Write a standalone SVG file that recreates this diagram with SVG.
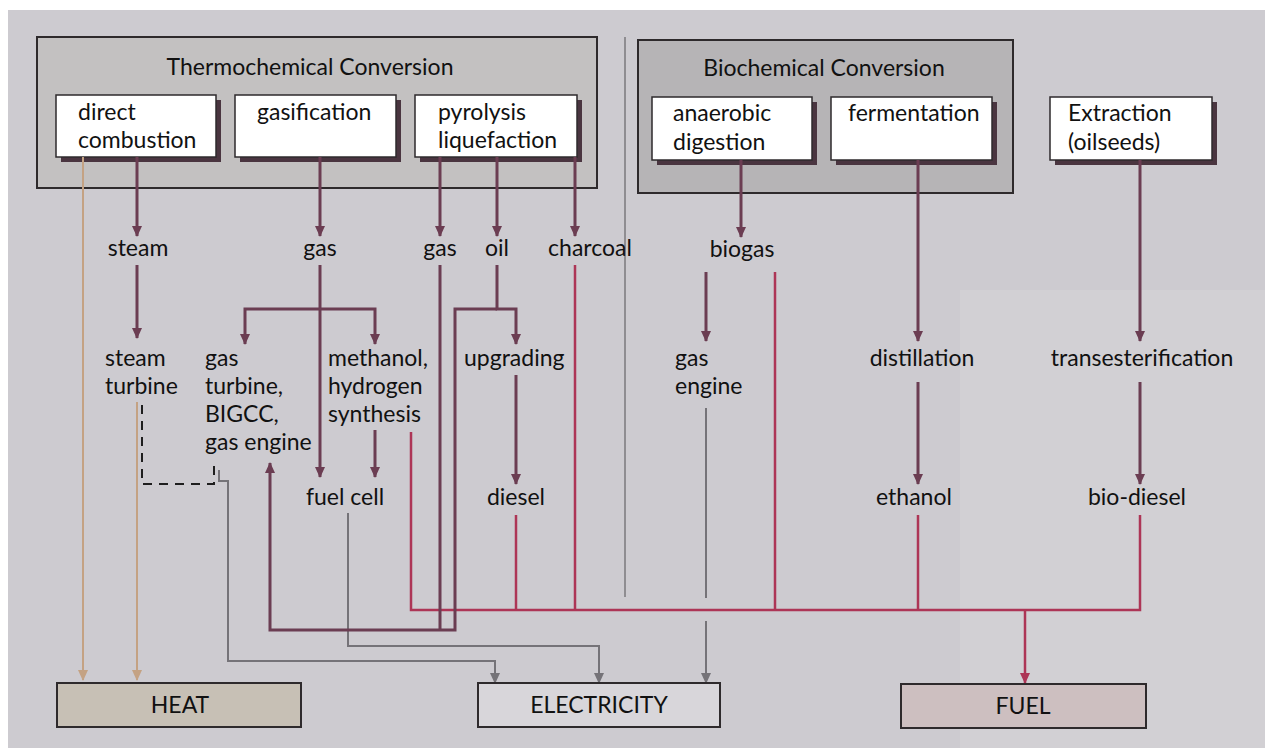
<svg xmlns="http://www.w3.org/2000/svg" width="1272" height="748" viewBox="0 0 1272 748">
<defs>
<style>
text{font-family:Lato,"Open Sans","Liberation Sans",sans-serif;font-size:23px;fill:#111111}
.c{text-anchor:middle}
.grp{stroke:#2e2a2c;stroke-width:2}
.box{fill:#ffffff;stroke:#2e2a2c;stroke-width:1.5}
.shd{fill:#4a3540}
.m{fill:none;stroke:#6b3d52;stroke-width:3}
.r{fill:none;stroke:#ad3556;stroke-width:2.5}
.g{fill:none;stroke:#757378;stroke-width:2}
.t{fill:none;stroke:#c4a283;stroke-width:2}
.d{fill:none;stroke:#1e1e1e;stroke-width:2;stroke-dasharray:9 7}
.out{stroke:#2e2a2c;stroke-width:2}
</style>
<marker id="am" markerUnits="userSpaceOnUse" markerWidth="11" markerHeight="10" refX="10" refY="5" orient="auto"><path d="M0,0 L11,5 L0,10 z" fill="#6b3d52"/></marker>
<marker id="ar" markerUnits="userSpaceOnUse" markerWidth="11" markerHeight="10" refX="10" refY="5" orient="auto"><path d="M0,0 L11,5 L0,10 z" fill="#ad3556"/></marker>
<marker id="ag" markerUnits="userSpaceOnUse" markerWidth="11" markerHeight="10" refX="10" refY="5" orient="auto"><path d="M0,0 L11,5 L0,10 z" fill="#757378"/></marker>
<marker id="at" markerUnits="userSpaceOnUse" markerWidth="11" markerHeight="10" refX="10" refY="5" orient="auto"><path d="M0,0 L11,5 L0,10 z" fill="#c4a283"/></marker>
</defs>
<rect x="0" y="0" width="1272" height="748" fill="#ffffff"/>
<rect x="8" y="10" width="1257" height="738" fill="#cdcbd0"/>
<rect x="960" y="290" width="305" height="458" fill="#d2d0d4"/>
<line x1="625" y1="37" x2="625" y2="597" stroke="#7a787c" stroke-width="1.5"/>

<g id="thermochemical">
<rect class="grp" x="37" y="37" width="560" height="151" fill="#c3c1c1"/>
<text class="c" x="310" y="75">Thermochemical Conversion</text>
</g>
<g id="direct-combustion">
<rect class="shd" x="61" y="100" width="160" height="62"/>
<rect class="box" x="56" y="95" width="160" height="62"/>
<text x="78" y="120">direct</text><text x="78" y="148">combustion</text>
</g>
<g id="gasification">
<rect class="shd" x="240" y="100" width="161" height="62"/>
<rect class="box" x="235" y="95" width="161" height="62"/>
<text x="257" y="120">gasification</text>
</g>
<g id="pyrolysis">
<rect class="shd" x="420" y="100" width="162" height="62"/>
<rect class="box" x="415" y="95" width="162" height="62"/>
<text x="438" y="120">pyrolysis</text><text x="438" y="148">liquefaction</text>
</g>
<g id="biochemical">
<rect class="grp" x="638" y="40" width="375" height="153" fill="#b6b4b6"/>
<text class="c" x="824" y="76">Biochemical Conversion</text>
</g>
<g id="anaerobic-digestion">
<rect class="shd" x="657" y="102" width="160" height="63"/>
<rect class="box" x="652" y="97" width="160" height="63"/>
<text x="673" y="121">anaerobic</text><text x="673" y="150">digestion</text>
</g>
<g id="fermentation">
<rect class="shd" x="836" y="102" width="161" height="63"/>
<rect class="box" x="831" y="97" width="161" height="63"/>
<text x="848" y="121">fermentation</text>
</g>
<g id="extraction">
<rect class="shd" x="1055" y="102" width="162" height="63"/>
<rect class="box" x="1050" y="97" width="162" height="63"/>
<text x="1068" y="121">Extraction</text><text x="1068" y="150">(oilseeds)</text>
</g>

<g id="connectors">
<path class="t" d="M83,157 V680" marker-end="url(#at)"/>
<path class="t" d="M137,402 V680" marker-end="url(#at)"/>
<path class="d" d="M142,405 V484 H214 V460"/>
<path class="g" d="M219,470 V481 H228 V661 H495 V683" marker-end="url(#ag)"/>
<path class="g" d="M348,513 V646 H599 V683" marker-end="url(#ag)"/>
<path class="g" d="M706,408 V598"/>
<path class="g" d="M706,621 V683" marker-end="url(#ag)"/>
<path class="r" d="M411,432 V610 H1140 V515"/>
<path class="r" d="M516,515 V610"/>
<path class="r" d="M575,265 V610"/>
<path class="r" d="M775,272 V610"/>
<path class="r" d="M918,515 V610"/>
<path class="r" d="M1025,610 V683" marker-end="url(#ar)"/>
<path class="m" d="M137,157 V236" marker-end="url(#am)"/>
<path class="m" d="M320,157 V236" marker-end="url(#am)"/>
<path class="m" d="M440,157 V236" marker-end="url(#am)"/>
<path class="m" d="M497,157 V236" marker-end="url(#am)"/>
<path class="m" d="M575,157 V236" marker-end="url(#am)"/>
<path class="m" d="M741,160 V237" marker-end="url(#am)"/>
<path class="m" d="M137,265 V338" marker-end="url(#am)"/>
<path class="m" d="M320,265 V477" marker-end="url(#am)"/>
<path class="m" d="M320,309 H245 V344" marker-end="url(#am)"/>
<path class="m" d="M320,309 H375 V344" marker-end="url(#am)"/>
<path class="m" d="M375,430 V477" marker-end="url(#am)"/>
<path class="m" d="M440,265 V630"/>
<path class="m" d="M497,265 V309 H516 V344" marker-end="url(#am)"/>
<path class="m" d="M497,309 H455 V630 H270 V463" marker-end="url(#am)"/>
<path class="m" d="M516,375 V484" marker-end="url(#am)"/>
<path class="m" d="M706,272 V341" marker-end="url(#am)"/>
<path class="m" d="M918,160 V341" marker-end="url(#am)"/>
<path class="m" d="M918,382 V484" marker-end="url(#am)"/>
<path class="m" d="M1140,160 V341" marker-end="url(#am)"/>
<path class="m" d="M1140,382 V484" marker-end="url(#am)"/>
</g>

<g id="labels">
<text class="c" x="138" y="256">steam</text>
<text class="c" x="320" y="256">gas</text>
<text class="c" x="440" y="256">gas</text>
<text class="c" x="497" y="256">oil</text>
<text class="c" x="590" y="256">charcoal</text>
<text class="c" x="742" y="257">biogas</text>
<text x="105" y="366">steam</text><text x="105" y="394">turbine</text>
<text x="205" y="366">gas</text><text x="205" y="394">turbine,</text><text x="205" y="422">BIGCC,</text><text x="205" y="450">gas engine</text>
<text x="328" y="366">methanol,</text><text x="328" y="394">hydrogen</text><text x="328" y="422">synthesis</text>
<text x="464" y="366">upgrading</text>
<text x="675" y="366">gas</text><text x="675" y="394">engine</text>
<text class="c" x="922" y="366">distillation</text>
<text class="c" x="1142" y="366">transesterification</text>
<text class="c" x="345" y="505">fuel cell</text>
<text class="c" x="516" y="505">diesel</text>
<text class="c" x="914" y="505">ethanol</text>
<text class="c" x="1137" y="505">bio-diesel</text>
</g>

<g id="heat">
<rect class="out" x="57" y="683" width="244" height="44" fill="#c7c0b5"/>
<text class="c" x="180" y="713">HEAT</text>
</g>
<g id="electricity">
<rect class="out" x="478" y="683" width="242" height="44" fill="#d8d6da"/>
<text class="c" x="599" y="713">ELECTRICITY</text>
</g>
<g id="fuel">
<rect class="out" x="901" y="684" width="245" height="44" fill="#cdbfc0"/>
<text class="c" x="1023" y="714">FUEL</text>
</g>
</svg>
